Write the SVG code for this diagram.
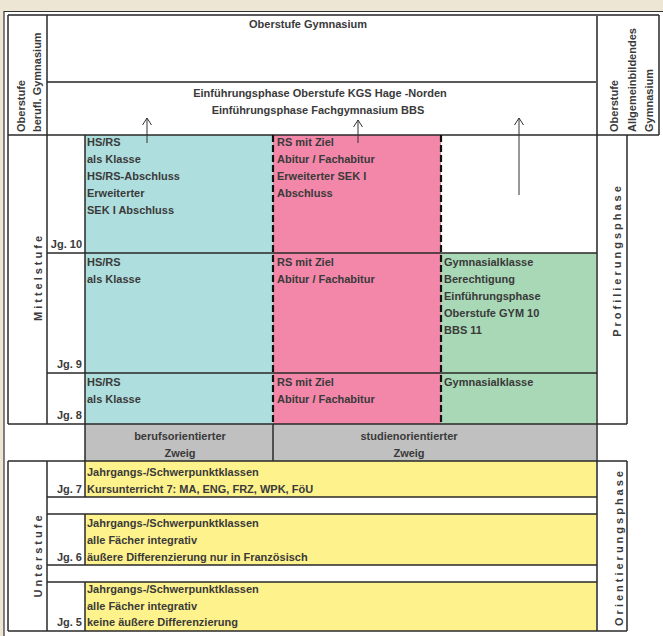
<svg xmlns="http://www.w3.org/2000/svg" width="663" height="636" viewBox="0 0 663 636">
<defs>
<style>
.t{font-family:"Liberation Sans",Arial,sans-serif;font-weight:bold;font-size:11px;fill:#3a3a3a}
.c{text-anchor:middle}
.e{text-anchor:end}
.sp{letter-spacing:3px}
.ln{stroke:#2a2a2a;stroke-width:1.5;fill:none}
.gl{stroke:#5a5a5a;stroke-width:2;fill:none}
.ds{stroke:#111;stroke-width:2.2;stroke-dasharray:7 3;fill:none}
.ar{stroke:#333;stroke-width:1;fill:none}
</style>
<marker id="ah" viewBox="-8 -6 9 12" refX="0" refY="0" markerWidth="9" markerHeight="12" markerUnits="userSpaceOnUse" orient="auto">
<path d="M-7,-4.5 L0,0 L-7,4.5" fill="none" stroke="#333" stroke-width="1"/>
</marker>
</defs>

<rect x="0" y="0" width="663" height="636" fill="#EEE6D4"/>
<rect x="4" y="11.5" width="659" height="625" fill="#ffffff"/>
<path d="M4,636 V11.5 H663" stroke="#333" stroke-width="1.2" fill="none"/>

<!-- fills -->
<rect x="85" y="135" width="188" height="289" fill="#AFDEDE"/>
<rect x="273" y="135" width="168" height="289" fill="#F287A9"/>
<rect x="441" y="253" width="156" height="171" fill="#A8D8B5"/>
<rect x="85" y="424" width="512" height="37" fill="#C0C0C0"/>
<rect x="85" y="461" width="512" height="36" fill="#FEF28C"/>
<rect x="85" y="514" width="512" height="51" fill="#FEF28C"/>
<rect x="85" y="582" width="512" height="49" fill="#FEF28C"/>

<!-- grid lines -->
<g id="grid">
<path class="gl" d="M8,15 H659 M47,82 H597 M597,15 V631"/>
<path class="ln" d="M8,15 V135 M659,15 V135 M47,15 V135 M8,135 H659"/>
<path class="ln" d="M8,135 V424 M47,135 V424 M85,135 V461 M627,135 V424 M8,424 H627 M47,253 H597 M47,373 H597"/>
<path class="ln" d="M273,424 V461 M8,461 H627 M8,461 V631 M47,461 V631 M85,461 V497 M85,514 V565 M85,582 V631 M627,461 V631 M8,631 H627"/>
<path class="ln" d="M47,497 H597 M47,514 H597 M47,565 H597 M47,582 H597"/>
<path class="ds" d="M273,135 V424 M441,135 V424"/>
</g>

<!-- Oberstufe -->
<g id="oberstufe-gymnasium">
<text class="t c" x="308" y="28">Oberstufe Gymnasium</text>
</g>
<g id="einfuehrungsphase">
<text class="t c" x="320" y="97">Einführungsphase Oberstufe KGS Hage -Norden</text>
<text class="t c" x="318" y="114">Einführungsphase Fachgymnasium BBS</text>
</g>
<g id="label-oberstufe-berufl">
<text class="t" transform="translate(25,132) rotate(-90)">Oberstufe</text>
<text class="t" transform="translate(41,132) rotate(-90)">berufl. Gymnasium</text>
</g>
<g id="label-oberstufe-allg">
<text class="t" transform="translate(618,132) rotate(-90)">Oberstufe</text>
<text class="t" transform="translate(636,132) rotate(-90)">Allgemeinbildendes</text>
<text class="t" transform="translate(653,132) rotate(-90)">Gymnasium</text>
</g>

<!-- Mittelstufe -->
<g id="label-mittelstufe">
<text class="t c sp" transform="translate(42,277) rotate(-90)">Mittelstufe</text>
</g>
<g id="label-profilierungsphase">
<text class="t c sp" transform="translate(621,260) rotate(-90)">Profilierungsphase</text>
</g>
<g id="jg-10"><text class="t e" x="82" y="248">Jg. 10</text></g>
<g id="jg-9"><text class="t e" x="82" y="368">Jg. 9</text></g>
<g id="jg-8"><text class="t e" x="82" y="419">Jg. 8</text></g>

<g id="hsrs-10">
<text class="t" x="87" y="146">HS/RS</text>
<text class="t" x="87" y="163">als Klasse</text>
<text class="t" x="87" y="180">HS/RS-Abschluss</text>
<text class="t" x="87" y="197">Erweiterter</text>
<text class="t" x="87" y="214">SEK I Abschluss</text>
</g>
<g id="rs-10">
<text class="t" x="277" y="146">RS mit Ziel</text>
<text class="t" x="277" y="163">Abitur / Fachabitur</text>
<text class="t" x="277" y="180">Erweiterter SEK I</text>
<text class="t" x="277" y="197">Abschluss</text>
</g>
<g id="hsrs-9">
<text class="t" x="87" y="266">HS/RS</text>
<text class="t" x="87" y="283">als Klasse</text>
</g>
<g id="rs-9">
<text class="t" x="277" y="266">RS mit Ziel</text>
<text class="t" x="277" y="283">Abitur / Fachabitur</text>
</g>
<g id="gym-9">
<text class="t" x="444" y="266">Gymnasialklasse</text>
<text class="t" x="444" y="283">Berechtigung</text>
<text class="t" x="444" y="300">Einführungsphase</text>
<text class="t" x="444" y="317">Oberstufe GYM 10</text>
<text class="t" x="444" y="334">BBS 11</text>
</g>
<g id="hsrs-8">
<text class="t" x="87" y="386">HS/RS</text>
<text class="t" x="87" y="403">als Klasse</text>
</g>
<g id="rs-8">
<text class="t" x="277" y="386">RS mit Ziel</text>
<text class="t" x="277" y="403">Abitur / Fachabitur</text>
</g>
<g id="gym-8">
<text class="t" x="444" y="386">Gymnasialklasse</text>
</g>

<g id="zweig-beruf">
<text class="t c" x="180" y="440">berufsorientierter</text>
<text class="t c" x="180" y="457">Zweig</text>
</g>
<g id="zweig-studien">
<text class="t c" x="409" y="440">studienorientierter</text>
<text class="t c" x="409" y="457">Zweig</text>
</g>

<!-- Unterstufe -->
<g id="label-unterstufe">
<text class="t c sp" transform="translate(42,555) rotate(-90)">Unterstufe</text>
</g>
<g id="label-orientierungsphase">
<text class="t c sp" transform="translate(623,547) rotate(-90)">Orientierungsphase</text>
</g>
<g id="jg-7">
<text class="t e" x="82" y="493">Jg. 7</text>
<text class="t" x="87" y="476">Jahrgangs-/Schwerpunktklassen</text>
<text class="t" x="87" y="493">Kursunterricht 7: MA, ENG, FRZ, WPK, FöU</text>
</g>
<g id="jg-6">
<text class="t e" x="82" y="561">Jg. 6</text>
<text class="t" x="87" y="527">Jahrgangs-/Schwerpunktklassen</text>
<text class="t" x="87" y="544">alle Fächer integrativ</text>
<text class="t" x="87" y="561">äußere Differenzierung nur in Französisch</text>
</g>
<g id="jg-5">
<text class="t e" x="82" y="626">Jg. 5</text>
<text class="t" x="87" y="593">Jahrgangs-/Schwerpunktklassen</text>
<text class="t" x="87" y="610">alle Fächer integrativ</text>
<text class="t" x="87" y="626">keine äußere Differenzierung</text>
</g>

<g id="connectors">
<line class="ar" x1="147" y1="143" x2="147" y2="118" marker-end="url(#ah)"/>
<line class="ar" x1="358" y1="143" x2="358" y2="120" marker-end="url(#ah)"/>
<line class="ar" x1="519" y1="195" x2="519" y2="118" marker-end="url(#ah)"/>
</g>
</svg>
